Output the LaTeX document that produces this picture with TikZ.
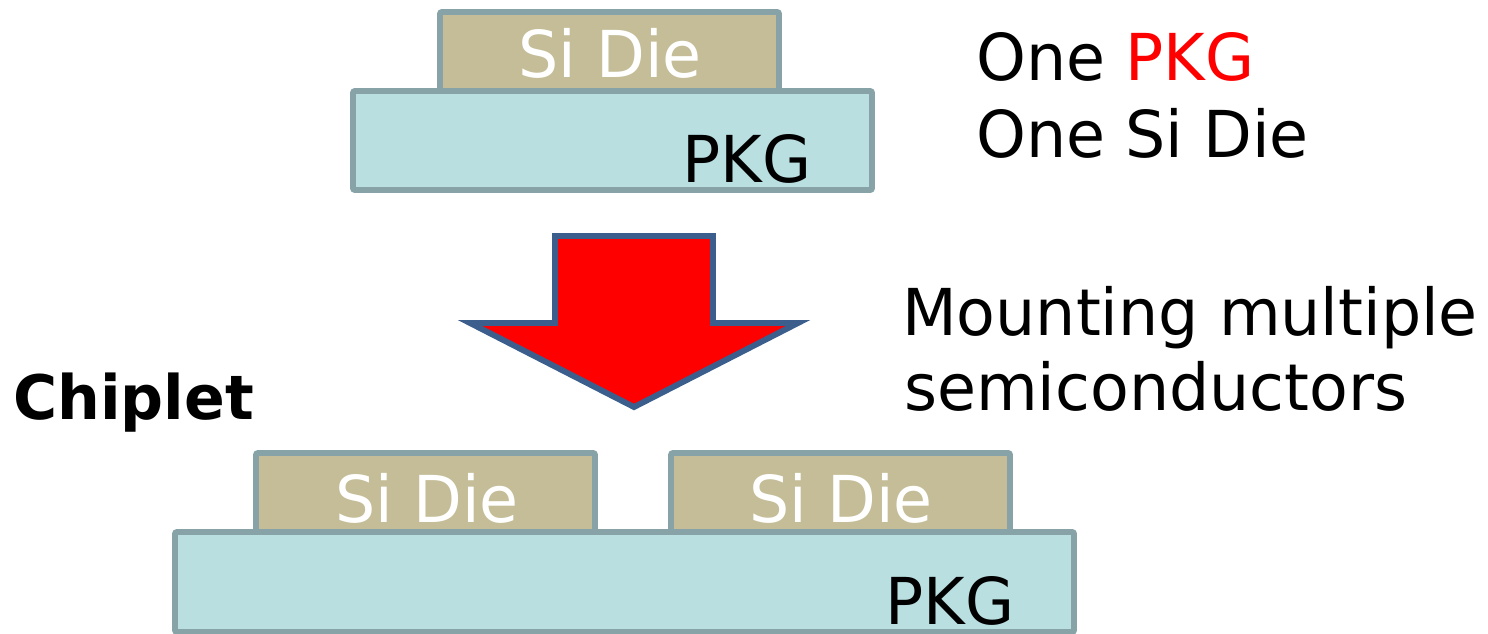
\documentclass[tikz,border=0pt]{standalone}
\usepackage{fontspec}
\setmainfont[FakeStretch=0.98]{DejaVu Sans}
\begin{document}
\definecolor{edgegray}{HTML}{87A3A7}
\definecolor{diefill}{HTML}{C4BD97}
\definecolor{pkgfill}{HTML}{B9DFE1}
\definecolor{arrowedge}{HTML}{3B5E8C}
\begin{tikzpicture}[x=0.75pt,y=-0.75pt,
  layer/.style={draw=edgegray,line width=4.4pt,rounded corners=1.5pt},
  die/.style={layer,fill=diefill},
  pkg/.style={layer,fill=pkgfill},
  dietext/.style={text=white,font=\fontsize{48.5}{56}\selectfont,inner sep=0pt},
  pkgtext/.style={text=black,font=\fontsize{48.5}{56}\selectfont,inner sep=0pt,anchor=base west},
  note/.style={font=\fontsize{48.5}{56}\selectfont,inner sep=0pt,anchor=base west}]
\useasboundingbox (0,0) rectangle (1488,633);

% single-die package
\draw[die] (440,12) rectangle (779,91);
\draw[pkg] (353,91) rectangle (872,190);
\node[dietext,anchor=base] (topdie) at (610,77) {Si Die};
\node[pkgtext] (toppkg) at (682,182) {PKG};

\node[note] (onepkg) at (976,80) {One \textcolor{red}{PKG}};
\node[note] (onedie) at (976,157) {One Si Die};

% transition arrow
\draw[fill=red,draw=arrowedge,line width=4.4pt,line join=miter]
  (555,236) -- (713,236) -- (713,323) -- (798,323) -- (634,407)
  -- (470,323) -- (555,323) -- cycle;

\node[note] (mount) at (902,335) {Mounting multiple};
\node[note] (semi) at (904,410) {semiconductors};
\node[note,font=\fontsize{46}{54}\selectfont\bfseries] (chiplet) at (13,419) {Chiplet};

% chiplet package
\draw[die] (256,453) rectangle (595,532);
\draw[die] (671,453) rectangle (1010,532);
\draw[pkg] (175,532) rectangle (1074,632);
\node[dietext,anchor=base] (die1) at (427,522) {Si Die};
\node[dietext,anchor=base] (die2) at (841,522) {Si Die};
\node[pkgtext] (botpkg) at (885,624) {PKG};
\end{tikzpicture}
\end{document}
